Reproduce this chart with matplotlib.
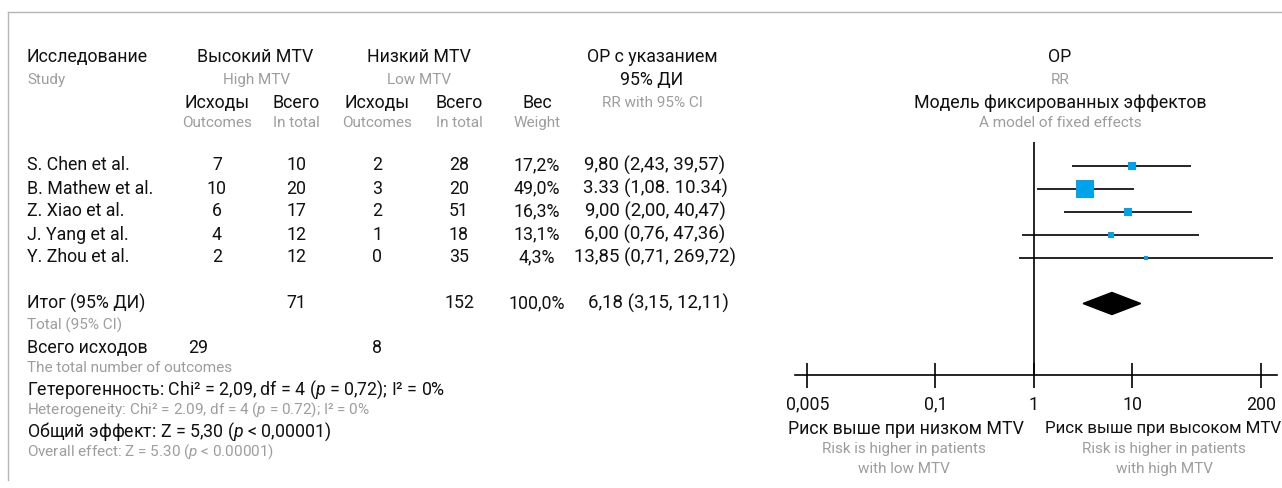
import matplotlib.pyplot as plt
from matplotlib.patches import Polygon

plt.rcParams['font.family'] = ['Roboto', 'DejaVu Sans']
plt.rcParams['mathtext.fontset'] = 'custom'
plt.rcParams['mathtext.rm'] = 'Roboto'
plt.rcParams['mathtext.it'] = 'Roboto:italic'

# data
studies = ['S. Chen et al.', 'B. Mathew et al.', 'Z. Xiao et al.', 'J. Yang et al.', 'Y. Zhou et al.']
high_events = [7, 10, 6, 4, 2]
high_total = [10, 20, 17, 12, 12]
low_events = [2, 3, 2, 1, 0]
low_total = [28, 20, 51, 18, 35]
weights = [17.2, 49.0, 16.3, 13.1, 4.3]
rr = [9.80, 3.33, 9.00, 6.00, 13.85]
ci_low = [2.43, 1.08, 2.00, 0.76, 0.71]
ci_high = [39.57, 10.34, 40.47, 47.36, 269.72]
rr_labels = ['9,80 (2,43, 39,57)', '3.33 (1,08. 10.34)', '9,00 (2,00, 40,47)',
             '6,00 (0,76, 47,36)', '13,85 (0,71, 269,72)']

total_high, total_low = 71, 152
total_weight = 100.0
events_high, events_low = 29, 8
total_rr, total_low_ci, total_high_ci = 6.18, 3.15, 12.11
total_label = '6,18 (3,15, 12,11)'

ticks = [0.005, 0.1, 1, 10, 200]
tick_labels = ['0,005', '0,1', '1', '10', '200']

W, H = 1282, 488
BLACK = '#111111'
GRAY = '#9d9d9d'
FS = 12.8
FS2 = 11
BLUE = '#00a3e8'

fig = plt.figure(figsize=(W / 100, H / 100), dpi=100)

# text layer in pixel coordinates
tx = fig.add_axes([0, 0, 1, 1])
tx.set_xlim(0, W)
tx.set_ylim(H, 0)
tx.axis('off')


def t(x, y, s, ha='center', gray=False, fs=None):
    tx.text(x, y, s, ha=ha, va='center', color=GRAY if gray else BLACK,
            fontsize=fs or (FS2 if gray else FS))


# frame lines
tx.plot([8, W], [12, 12], color='#b5b5b5', lw=1)
tx.plot([8, 8], [12, 480], color='#b5b5b5', lw=1)

# headers
t(27, 57, 'Исследование', ha='left')
t(27, 80, 'Study', ha='left', gray=True)
t(255, 57, 'Высокий MTV')
t(257, 80, 'High MTV', gray=True)
t(419, 57, 'Низкий MTV')
t(419, 80, 'Low MTV', gray=True)
t(652, 57, 'ОР с указанием')
t(652, 80, '95% ДИ')
t(652, 103, 'RR with 95% CI', gray=True)
t(1060, 57, 'ОР')
t(1060, 80, 'RR', gray=True)
t(1060, 103, 'Модель фиксированных эффектов')
t(1060, 123, 'A model of fixed effects', gray=True)

cols = [217, 296, 377, 459, 537]
for x, s, g in zip(cols, ['Исходы', 'Всего', 'Исходы', 'Всего', 'Вес'],
                   ['Outcomes', 'In total', 'Outcomes', 'In total', 'Weight']):
    t(x, 103, s)
    t(x, 123, g, gray=True)

# study rows
row0, step = 165.5, 23
for i, name in enumerate(studies):
    y = row0 + step * i
    t(27, y, name, ha='left')
    t(cols[0], y, str(high_events[i]))
    t(cols[1], y, str(high_total[i]))
    t(cols[2], y, str(low_events[i]))
    t(cols[3], y, str(low_total[i]))
    t(cols[4], y, f'{weights[i]:.1f}%'.replace('.', ','))
    t(655, y, rr_labels[i], fs=13.4)

# totals
yt = row0 + step * 6
t(27, yt, 'Итог (95% ДИ)', ha='left')
t(cols[1], yt, str(total_high))
t(cols[3], yt, str(total_low))
t(cols[4], yt, f'{total_weight:.1f}%'.replace('.', ','))
t(658, yt, total_label, fs=13.4)
t(27, 325, 'Total (95% CI)', ha='left', gray=True)
t(27, 348, 'Всего исходов', ha='left')
t(198, 348, str(events_high))
t(cols[2], 348, str(events_low))
t(27, 368, 'The total number of outcomes', ha='left', gray=True)
t(27, 390, 'Гетерогенность: Chi² = 2,09, df = 4 ($p$ = 0,72); I² = 0%', ha='left')
t(27, 410, 'Heterogeneity: Chi² = 2.09, df = 4 ($p$ = 0.72); I² = 0%', ha='left', gray=True)
t(27, 432, 'Общий эффект: Z = 5,30 ($p$ < 0,00001)', ha='left')
t(27, 452, 'Overall effect: Z = 5.30 ($p$ < 0.00001)', ha='left', gray=True)

# bottom direction labels
t(906, 429, 'Риск выше при низком MTV')
t(904, 449, 'Risk is higher in patients', gray=True)
t(904, 469, 'with low MTV', gray=True)
t(1045, 429, 'Риск выше при высоком MTV', ha='left', fs=12.2)
t(1164, 449, 'Risk is higher in patients', gray=True)
t(1164, 469, 'with high MTV', gray=True)

# forest plot axes
x0, x1 = 795, 1277
ytop, ybot = 142, 375
ax = fig.add_axes([x0 / W, 1 - ybot / H, (x1 - x0) / W, (ybot - ytop) / H])
ax.patch.set_alpha(0)
ax.set_xscale('log')
ax.set_xlim(0.00375, 293)
ax.set_ylim((ybot - row0) / step, (ytop - row0) / step)
for s in ['top', 'right', 'left']:
    ax.spines[s].set_visible(False)
ax.spines['bottom'].set_linewidth(1.2)
ax.set_yticks([])
ax.set_xticks(ticks)
ax.set_xticklabels(tick_labels, fontsize=FS, color=BLACK)
ax.minorticks_off()
ax.tick_params(axis='x', direction='inout', length=18, width=1.2, pad=6)
ax.axvline(1, color='black', lw=1.2)

for i in range(len(studies)):
    ax.plot([ci_low[i], ci_high[i]], [i, i], color='black', lw=1.2, solid_capstyle='butt')
    side = 2.5 + 0.31 * weights[i]
    ax.scatter(rr[i], i, marker='s', s=(side * 0.72) ** 2, color=BLUE, linewidths=0, zorder=3)

ax.add_patch(Polygon([[total_low_ci, 6], [total_rr, 6 - 0.48], [total_high_ci, 6], [total_rr, 6 + 0.48]],
                     closed=True, color='black'))

fig.savefig('out.png', dpi=100)
